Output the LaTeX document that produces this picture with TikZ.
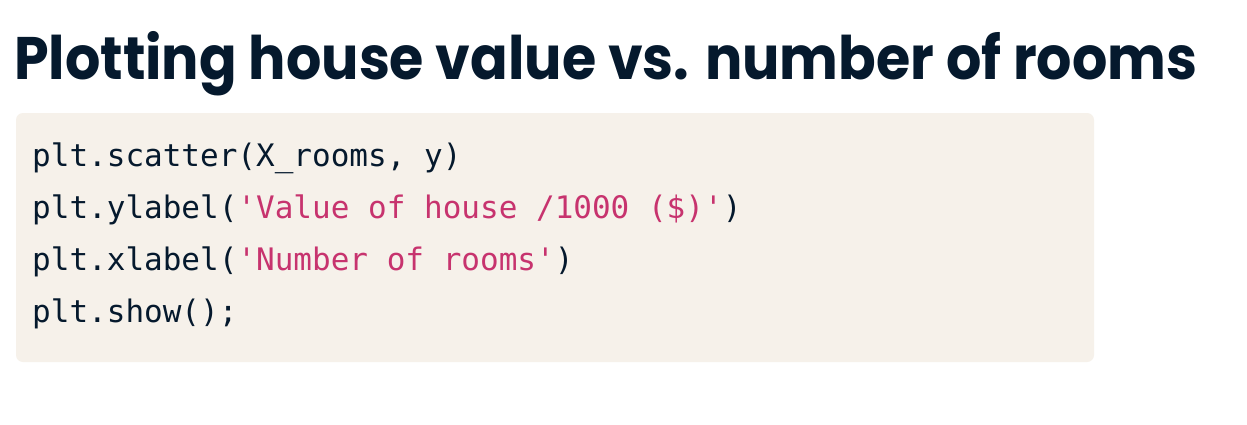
\documentclass[tikz,border=0pt]{standalone}
\usepackage{fontspec}
\setmainfont{Poppins}
\newfontfamily\codefont{DejaVu Sans Mono}
\definecolor{navy}{HTML}{05192D}
\definecolor{codebg}{HTML}{F6F1EA}
\definecolor{strpink}{HTML}{C7336E}
\begin{document}
\begin{tikzpicture}[x=1pt,y=1pt,
  codeline/.style={anchor=base west,inner sep=0pt,text=navy,font=\codefont\fontsize{31}{31}\selectfont},
  titletext/.style={anchor=base west,inner sep=0pt,text=navy,font=\bfseries\fontsize{60}{60}\selectfont}]
\useasboundingbox[fill=white] (0,0) rectangle (1247,424);
\node[titletext] (title) at (14,344) {\scalebox{0.925}[1]{Plotting house value vs. number of rooms}};
\fill[codebg,rounded corners=7pt] (16,62) rectangle (1094,311);
\node[codeline] (l1) at (32,258) {plt.scatter(X\_rooms, y)};
\node[codeline] (l2) at (32,206) {plt.ylabel(\textcolor{strpink}{'Value of house /1000 (\$)'})};
\node[codeline] (l3) at (32,154) {plt.xlabel(\textcolor{strpink}{'Number of rooms'})};
\node[codeline] (l4) at (32,102) {plt.show();};
\end{tikzpicture}
\end{document}
